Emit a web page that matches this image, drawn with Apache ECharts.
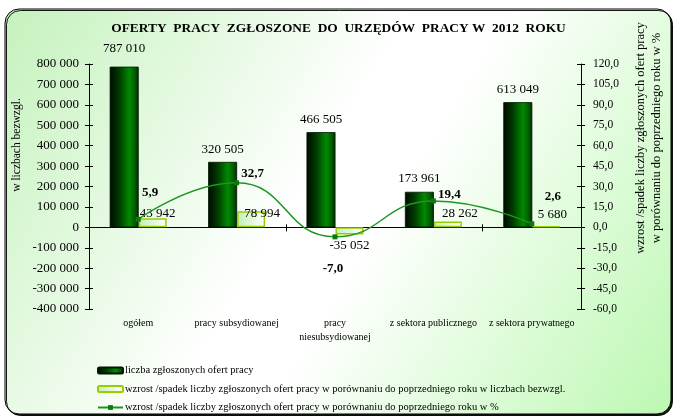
<!DOCTYPE html>
<html>
<head>
<meta charset="utf-8">
<script src="https://cdn.jsdelivr.net/npm/echarts@6/dist/echarts.min.js"></script>
<style>
  html, body { margin: 0; padding: 0; background: #ffffff; }
  #chart { width: 677px; height: 417px; }
</style>
</head>
<body>
<div id="chart"></div>
<script>
// Job offers reported to labour offices in 2012
const categories = ['ogółem', 'pracy subsydiowanej', 'pracy\nniesubsydiowanej', 'z sektora publicznego', 'z sektora prywatnego'];
const offers = [787010, 320505, 466505, 173961, 613049];
const changeAbs = [43942, 78994, -35052, 28262, 5680];
const changePct = [5.9, 32.7, -7.0, 19.4, 2.6];

const leftTicks = { min: -400000, max: 800000, interval: 100000 };
const rightTicks = { min: -60, max: 120, interval: 15 };

const seriesNames = [
  'liczba zgłoszonych ofert pracy',
  'wzrost /spadek liczby zgłoszonych ofert pracy w porównaniu do poprzedniego roku w liczbach bezwzgl.',
  'wzrost /spadek liczby zgłoszonych ofert pracy w porównaniu do poprzedniego roku w %'
];

// label nudges (px) for individual marks
const offersLabelShift = [[0, -7], [0, -1], [0, -1], [0, -2], [0, -1]];
const changeAbsLabelShift = [[5, 7], [11, 14], [0, 0], [12, 4], [6, 0]];
const changePctLabelShift = [[12, -27], [16, -9], [-2, 32], [16, -6], [21, -27]];

const SERIF = '"Liberation Serif", "Times New Roman", serif';

function fmtInt(v) {
  const s = String(Math.abs(Math.round(v))).replace(/\B(?=(\d{3})+(?!\d))/g, ' ');
  return (v < 0 ? '-' : '') + s;
}
function fmtDec(v) {
  return v.toFixed(1).replace('.', ',');
}

const chart = echarts.init(document.getElementById('chart'), null, { renderer: 'canvas' });

const darkBarFill = new echarts.graphic.LinearGradient(0, 0, 1, 0, [
  { offset: 0, color: '#000800' },
  { offset: 0.35, color: '#003f00' },
  { offset: 0.68, color: '#008a00' },
  { offset: 0.88, color: '#005a00' },
  { offset: 1, color: '#002400' }
]);
const lightBarFill = new echarts.graphic.LinearGradient(0, 0, 1, 0, [
  { offset: 0, color: '#c2f0b4' },
  { offset: 1, color: '#ffffff' }
]);

const axisLabelBase = { color: '#000', fontFamily: SERIF };

const option = {
  animation: false,
  graphic: [
    {
      type: 'rect',
      z: -10,
      shape: { x: 5, y: 9, width: 666, height: 405, r: 14 },
      style: {
        fill: new echarts.graphic.LinearGradient(0, 0, 1, 1, [
          { offset: 0, color: '#c4f2bc' },
          { offset: 0.45, color: '#ffffff' },
          { offset: 0.55, color: '#ffffff' },
          { offset: 1, color: '#bcf8b2' }
        ]),
        stroke: '#000',
        lineWidth: 1,
        shadowColor: 'rgba(0,0,0,0.9)',
        shadowOffsetX: 1.5,
        shadowOffsetY: 1.5,
        shadowBlur: 0
      }
    },
    {
      type: 'text',
      left: 'center',
      top: 22,
      style: {
        text: 'OFERTY  PRACY  ZGŁOSZONE  DO  URZĘDÓW  PRACY W  2012  ROKU',
        fill: '#000',
        font: 'bold 13.4px ' + SERIF
      }
    },
    {
      type: 'text',
      x: 17,
      y: 145,
      rotation: Math.PI / 2,
      style: {
        text: 'w liczbach bezwzgl.',
        fill: '#000',
        font: '11.5px ' + SERIF,
        align: 'center',
        verticalAlign: 'middle'
      }
    },
    {
      type: 'text',
      x: 641,
      y: 138,
      rotation: Math.PI / 2,
      style: {
        text: 'wzrost /spadek liczby zgłoszonych ofert pracy',
        fill: '#000',
        font: '12.5px ' + SERIF,
        align: 'center',
        verticalAlign: 'middle'
      }
    },
    {
      type: 'text',
      x: 657,
      y: 138,
      rotation: Math.PI / 2,
      style: {
        text: 'w porównaniu do poprzedniego roku w %',
        fill: '#000',
        font: '12.5px ' + SERIF,
        align: 'center',
        verticalAlign: 'middle'
      }
    }
  ],
  legend: {
    orient: 'vertical',
    left: 92,
    top: 360,
    height: 60,
    itemWidth: 25,
    itemHeight: 6,
    itemGap: 7.5,
    textStyle: { color: '#000', fontFamily: SERIF, fontSize: 10.5, padding: [0, 0, 0, -3] },
    data: seriesNames
  },
  grid: { left: 89, right: 96, top: 64, bottom: 108, containLabel: false },
  xAxis: [
    {
      type: 'category',
      data: categories,
      position: 'bottom',
      axisLine: { show: false, onZero: false },
      axisTick: { show: false },
      axisLabel: { color: '#000', fontFamily: SERIF, fontSize: 10, margin: 7, lineHeight: 14, interval: 0 }
    },
    {
      type: 'category',
      data: categories,
      position: 'bottom',
      axisLine: { show: true, onZero: true, lineStyle: { color: '#000', width: 1 } },
      axisTick: { show: true, length: 4, lineStyle: { color: '#000' } },
      axisLabel: { show: false }
    },
    {
      type: 'category',
      data: categories,
      position: 'top',
      axisLine: { show: false, onZero: true },
      axisTick: { show: true, length: 3, lineStyle: { color: '#000' } },
      axisLabel: { show: false }
    }
  ],
  yAxis: [
    {
      type: 'value',
      position: 'left',
      min: leftTicks.min, max: leftTicks.max, interval: leftTicks.interval,
      splitLine: { show: false },
      axisLine: { show: true, lineStyle: { color: '#000' } },
      axisTick: { show: true, length: 4, lineStyle: { color: '#000' } },
      axisLabel: Object.assign({ margin: 10, fontSize: 13, formatter: v => fmtInt(v) }, axisLabelBase)
    },
    {
      type: 'value',
      position: 'right',
      min: rightTicks.min, max: rightTicks.max, interval: rightTicks.interval,
      splitLine: { show: false },
      axisLine: { show: true, lineStyle: { color: '#000' } },
      axisTick: { show: true, length: 4, lineStyle: { color: '#000' } },
      axisLabel: Object.assign({ margin: 12, fontSize: 11.5, formatter: v => fmtDec(v) }, axisLabelBase)
    },
    {
      type: 'value',
      position: 'left',
      min: leftTicks.min, max: leftTicks.max, interval: leftTicks.interval,
      splitLine: { show: false },
      axisLine: { show: false },
      axisTick: { show: true, inside: true, length: 4, lineStyle: { color: '#000' } },
      axisLabel: { show: false }
    },
    {
      type: 'value',
      position: 'right',
      min: rightTicks.min, max: rightTicks.max, interval: rightTicks.interval,
      splitLine: { show: false },
      axisLine: { show: false },
      axisTick: { show: true, inside: true, length: 4, lineStyle: { color: '#000' } },
      axisLabel: { show: false }
    }
  ],
  series: [
    {
      name: seriesNames[0],
      type: 'bar',
      xAxisIndex: 0,
      yAxisIndex: 0,
      barWidth: 29,
      barGap: '0%',
      itemStyle: { color: darkBarFill, borderColor: '#001800', borderWidth: 0.8 },
      label: {
        show: true,
        position: 'top',
        distance: 5,
        color: '#000',
        fontFamily: SERIF,
        fontSize: 13,
        formatter: p => fmtInt(p.value)
      },
      data: offers.map((v, i) => ({ value: v, label: { offset: offersLabelShift[i] } })),
      z: 3
    },
    {
      name: seriesNames[1],
      type: 'bar',
      xAxisIndex: 0,
      yAxisIndex: 0,
      barWidth: 28,
      barGap: '0%',
      itemStyle: { color: lightBarFill, borderColor: '#9acd00', borderWidth: 1.5 },
      label: {
        show: true,
        color: '#000',
        fontFamily: SERIF,
        fontSize: 13,
        distance: 5,
        formatter: p => fmtInt(p.value)
      },
      data: changeAbs.map((v, i) => ({
        value: v,
        label: { position: v < 0 ? 'bottom' : 'top', offset: changeAbsLabelShift[i] }
      })),
      z: 3
    },
    {
      name: seriesNames[2],
      type: 'line',
      xAxisIndex: 0,
      yAxisIndex: 1,
      smooth: 0.5,
      symbol: 'rect',
      symbolSize: 5,
      lineStyle: { color: '#1f951f', width: 1.5 },
      itemStyle: { color: '#0b7a0b' },
      label: {
        show: true,
        position: 'inside',
        color: '#000',
        fontFamily: SERIF,
        fontSize: 13,
        fontWeight: 'bold',
        formatter: p => fmtDec(p.value)
      },
      data: changePct.map((v, i) => ({ value: v, label: { offset: changePctLabelShift[i] } })),
      z: 5
    }
  ]
};

chart.setOption(option);
</script>
</body>
</html>
